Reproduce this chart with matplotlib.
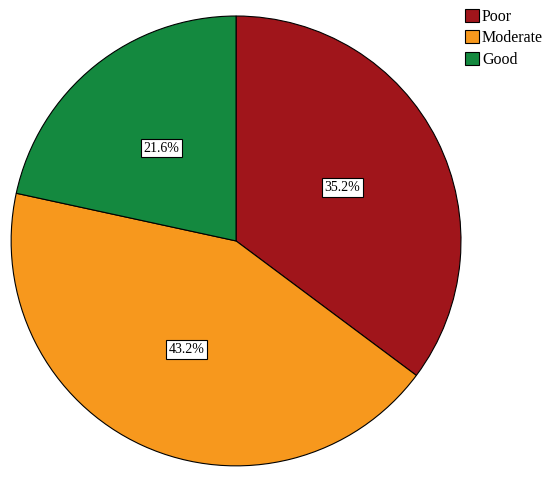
import matplotlib
matplotlib.use('Agg')
import matplotlib.pyplot as plt

categories = ['Poor', 'Moderate', 'Good']
values = [35.2, 43.2, 21.6]
colors = ['#A0151B', '#F7981D', '#14893F']

fig = plt.figure(figsize=(5.5, 4.79), dpi=100)
ax = fig.add_axes([0.0182, 0.025, 0.822, 0.944])

wedges, texts, autotexts = ax.pie(
    values, colors=colors, startangle=90, counterclock=False,
    autopct='%.1f%%', pctdistance=0.53,
    wedgeprops=dict(edgecolor='black', linewidth=0.8),
    textprops=dict(family='Liberation Serif', fontsize=10, color='black'))
for t in autotexts:
    t.set_bbox(dict(boxstyle='square,pad=0.2', facecolor='white', edgecolor='black', linewidth=0.8))
ax.set_aspect('equal')
ax.set_xlim(-1.005, 1.005)
ax.set_ylim(-1.005, 1.005)

leg = fig.legend(wedges, categories, loc='upper left', bbox_to_anchor=(0.83, 1.0),
                 frameon=False, prop=dict(family='Liberation Serif', size=11.5),
                 handlelength=0.85, handleheight=0.85, handletextpad=0.2, labelspacing=0.35,
                 borderaxespad=0.15)

fig.savefig('out.png', dpi=100)
